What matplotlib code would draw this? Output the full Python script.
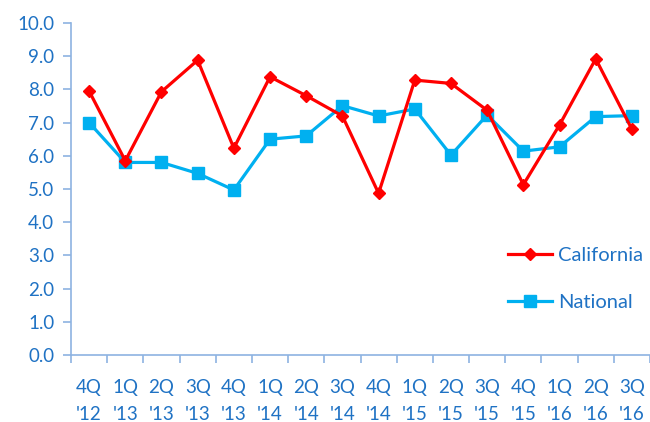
import matplotlib
matplotlib.use("Agg")
import matplotlib.pyplot as plt

quarters = ["4Q\n'12", "1Q\n'13", "2Q\n'13", "3Q\n'13", "4Q\n'13", "1Q\n'14", "2Q\n'14", "3Q\n'14",
            "4Q\n'14", "1Q\n'15", "2Q\n'15", "3Q\n'15", "4Q\n'15", "1Q\n'16", "2Q\n'16", "3Q\n'16"]
california = [7.95, 5.85, 7.93, 8.88, 6.23, 8.38, 7.81, 7.2, 4.87, 8.28, 8.18, 7.37, 5.13, 6.93, 8.92, 6.8]
national = [7.0, 5.8, 5.8, 5.47, 4.97, 6.5, 6.6, 7.51, 7.2, 7.41, 6.02, 7.23, 6.14, 6.27, 7.18, 7.21]
yticks = [0, 1, 2, 3, 4, 5, 6, 7, 8, 9, 10]

text_color = "#1F72C4"
axis_color = "#8DB3E2"
plt.rcParams['font.family'] = ['Lato', 'DejaVu Sans']

fig = plt.figure(figsize=(6.5, 4.22), dpi=100)
ax = fig.add_axes([71/650, 1-355/422, 579/650, 332/422])

x = list(range(len(quarters)))
ax.plot(x, california, color="#FF0000", lw=2.3, marker="D", markersize=6.5, label="California", zorder=3)
ax.plot(x, national, color="#00B0F0", lw=2.3, marker="s", markersize=8, label="National", zorder=2)

ax.set_xlim(-0.5, len(quarters) - 0.5)
ax.set_ylim(0, 10)
ax.set_yticks(yticks)
ax.set_yticklabels([f"{v:.1f}" for v in yticks])
ax.set_xticks(x)
ax.set_xticklabels(quarters, linespacing=1.75)
ax.set_xticks([i - 0.5 for i in range(len(quarters) + 1)], minor=True)

for s in ["top", "right"]:
    ax.spines[s].set_visible(False)
for s in ["left", "bottom"]:
    ax.spines[s].set_color(axis_color)
    ax.spines[s].set_linewidth(1.2)

ax.tick_params(axis="y", colors=axis_color, labelcolor=text_color, labelsize=13.5, length=6, width=1.2, pad=6)
ax.tick_params(axis="x", which="major", length=0, labelcolor=text_color, labelsize=13.5, pad=17)
ax.tick_params(axis="x", which="minor", colors=axis_color, length=6, width=1.2)

leg = ax.legend(loc="upper left", bbox_to_anchor=(0.74, 0.35), frameon=False, fontsize=14.5,
                labelspacing=1.5, handlelength=2.2, handletextpad=0.3, borderaxespad=0)
for t in leg.get_texts():
    t.set_color(text_color)

fig.savefig("out.png", dpi=100)
